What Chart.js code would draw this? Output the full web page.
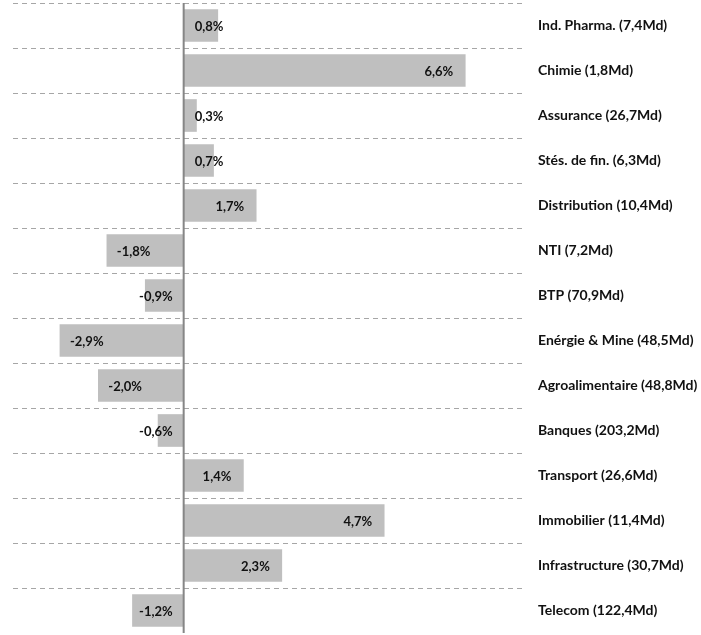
<!DOCTYPE html>
<html>
<head>
<meta charset="utf-8">
<script src="https://cdn.jsdelivr.net/npm/chart.js@4.4.0/dist/chart.umd.min.js"></script>
<style>
  body { margin: 0; background: #fff; }
  #wrap { width: 701px; height: 635px; }
</style>
</head>
<body>
<div id="wrap"><canvas id="sectorChart"></canvas></div>
<script>
const categories = ['Ind. Pharma. (7,4Md)', 'Chimie (1,8Md)', 'Assurance (26,7Md)', 'Stés. de fin. (6,3Md)',
    'Distribution (10,4Md)', 'NTI (7,2Md)', 'BTP (70,9Md)', 'Enérgie & Mine (48,5Md)',
    'Agroalimentaire (48,8Md)', 'Banques (203,2Md)', 'Transport (26,6Md)', 'Immobilier (11,4Md)',
    'Infrastructure (30,7Md)', 'Telecom (122,4Md)']
const variations = [0.8, 6.6, 0.3, 0.7, 1.7, -1.8, -0.9, -2.9, -2.0, -0.6, 1.4, 4.7, 2.3, -1.2]

const FONT = 'Lato, "Open Sans", sans-serif'

function fmt(v) {
    return v.toFixed(1).replace('.', ',') + '%'
}

// zero line + value labels (inside end, clamped near the axis for short bars)
const labelsPlugin = {
    id: 'valueLabels',
    afterDatasetsDraw(chart) {
        const ctx = chart.ctx
        const x = chart.scales.x
        const area = chart.chartArea
        const zero = x.getPixelForValue(0)
        ctx.save()
        ctx.font = 'bold 13px ' + FONT
        ctx.fillStyle = '#111'
        ctx.textBaseline = 'middle'
        ctx.textAlign = 'left'
        chart.getDatasetMeta(0).data.forEach((bar, i) => {
            const v = variations[i]
            const txt = fmt(v)
            const w = ctx.measureText(txt).width
            let left
            if (v >= 0) {
                left = Math.max(zero + 11, bar.x - 12 - w)
            } else {
                left = Math.min(bar.x + 10, zero - 11 - w)
            }
            ctx.fillText(txt, left, bar.y + 1)
        })
        ctx.strokeStyle = '#868686'
        ctx.lineWidth = 2
        ctx.beginPath()
        ctx.moveTo(zero, area.top)
        ctx.lineTo(zero, area.bottom)
        ctx.stroke()
        ctx.restore()
    }
}

const ctxSector = document.getElementById('sectorChart').getContext('2d')

const sectorChart = new Chart(ctxSector, {
    type: 'bar',
    data: {
        labels: categories,
        datasets: [{
            data: variations,
            backgroundColor: '#bfbfbf',
            borderWidth: 0,
            barThickness: 32,
        }]
    },
    options: {
        indexAxis: 'y',
        responsive: true,
        maintainAspectRatio: false,
        animation: false,
        layout: {
            padding: { top: 3, bottom: 2, left: 13, right: 0 }
        },
        plugins: {
            legend: { display: false },
            tooltip: { enabled: false },
        },
        scales: {
            x: {
                display: false,
                min: -4,
                max: 8,
            },
            y: {
                position: 'right',
                afterFit(scale) {
                    scale.width = 176
                    scale.paddingTop = 0
                    scale.paddingBottom = 0
                },
                grid: {
                    offset: true,
                    drawTicks: false,
                    color: (c) => c.index === undefined ? 'rgba(0,0,0,0)' : '#a6a6a6',
                    lineWidth: 1,
                },
                border: { display: false, dash: [5, 4] },
                ticks: {
                    padding: 13,
                    color: '#111',
                    font: { family: FONT, size: 14, weight: 'bold' },
                },
            }
        }
    },
    plugins: [labelsPlugin]
})
</script>
</body>
</html>
